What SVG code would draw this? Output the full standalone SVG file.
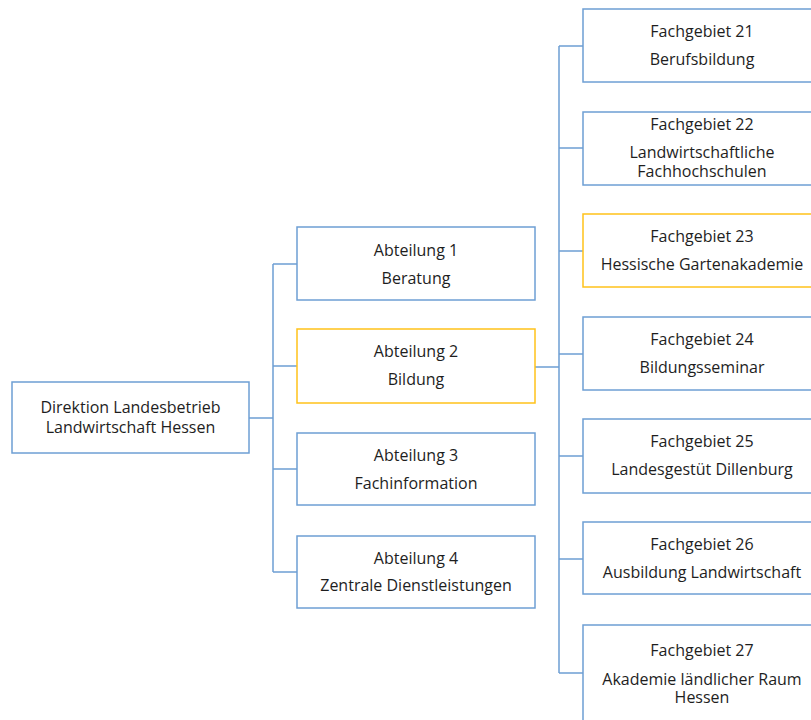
<svg xmlns="http://www.w3.org/2000/svg" width="811" height="720" viewBox="0 0 811 720">
<style>
.box{fill:#fff;stroke:#6E9FD4;stroke-width:1.5}
.hl{fill:#fff;stroke:#FFC21A;stroke-width:1.5}
.con{fill:none;stroke:#6E9FD4;stroke-width:1.5}
text{font-family:"Open Sans","Noto Sans","Liberation Sans",sans-serif;font-size:16px;fill:#1E1E1E;text-anchor:middle}
</style>
<rect width="811" height="720" fill="#fff"/>
<g id="connectors">
<path class="con" d="M249 418H273M273 264V572M273 264H297M273 366H297M273 469H297M273 572H297"/>
<path class="con" d="M535 367H559M559 46V673M559 46H583M559 148H583M559 251H583M559 354H583M559 456H583M559 559H583M559 673H583"/>
</g>
<g id="root"><rect class="box" x="12" y="382" width="237" height="71"/><text x="130.5" y="413">Direktion Landesbetrieb</text><text x="130.5" y="433">Landwirtschaft Hessen</text></g>
<g id="abt1"><rect class="box" x="297" y="227" width="238" height="73"/><text x="416" y="256">Abteilung 1</text><text x="416" y="284">Beratung</text></g>
<g id="abt2"><rect class="hl" x="297" y="329" width="238" height="74"/><text x="416" y="357">Abteilung 2</text><text x="416" y="385">Bildung</text></g>
<g id="abt3"><rect class="box" x="297" y="433" width="238" height="72"/><text x="416" y="461">Abteilung 3</text><text x="416" y="489">Fachinformation</text></g>
<g id="abt4"><rect class="box" x="297" y="536" width="238" height="72"/><text x="416" y="564">Abteilung 4</text><text x="416" y="591">Zentrale Dienstleistungen</text></g>
<g id="fg21"><rect class="box" x="583" y="9" width="238" height="73"/><text x="702" y="37">Fachgebiet 21</text><text x="702" y="65">Berufsbildung</text></g>
<g id="fg22"><rect class="box" x="583" y="112" width="238" height="73"/><text x="702" y="130">Fachgebiet 22</text><text x="702" y="158">Landwirtschaftliche</text><text x="702" y="177">Fachhochschulen</text></g>
<g id="fg23"><rect class="hl" x="583" y="214" width="238" height="73"/><text x="702" y="242">Fachgebiet 23</text><text x="702" y="270">Hessische Gartenakademie</text></g>
<g id="fg24"><rect class="box" x="583" y="317" width="238" height="73"/><text x="702" y="345">Fachgebiet 24</text><text x="702" y="373">Bildungsseminar</text></g>
<g id="fg25"><rect class="box" x="583" y="419" width="238" height="74"/><text x="702" y="447">Fachgebiet 25</text><text x="702" y="475">Landesgestüt Dillenburg</text></g>
<g id="fg26"><rect class="box" x="583" y="522" width="238" height="72"/><text x="702" y="550">Fachgebiet 26</text><text x="702" y="578">Ausbildung Landwirtschaft</text></g>
<g id="fg27"><rect class="box" x="583" y="625" width="238" height="105"/><text x="702" y="656">Fachgebiet 27</text><text x="702" y="685">Akademie ländlicher Raum</text><text x="702" y="703">Hessen</text></g>
</svg>
